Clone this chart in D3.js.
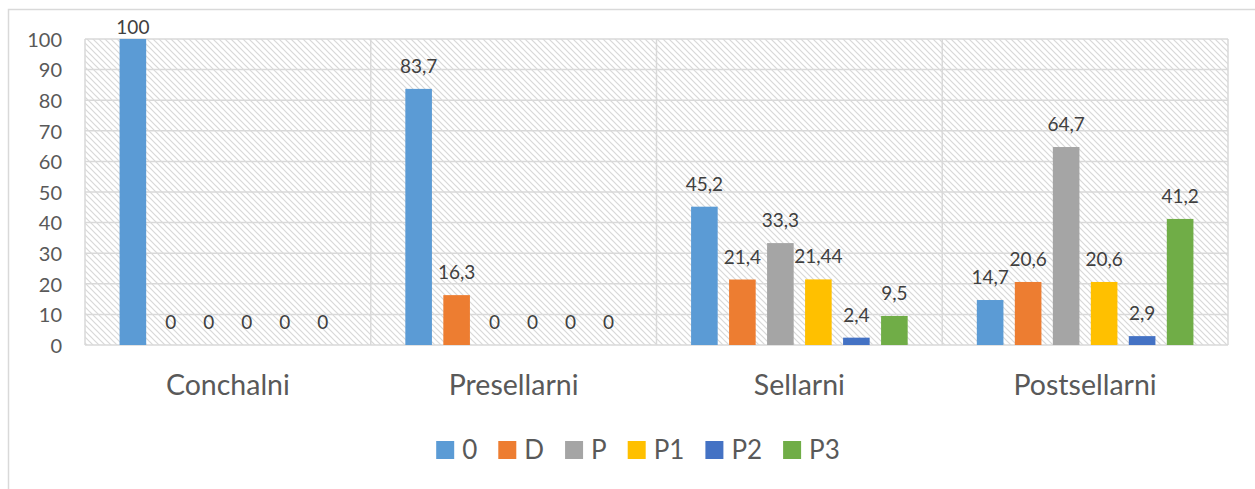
<!DOCTYPE html>
<html><head><meta charset="utf-8">
<script src="https://cdn.jsdelivr.net/npm/d3@7"></script>
<style>body{margin:0;background:#fff}svg{display:block}</style>
</head><body>
<svg id="chart" width="1255" height="489"></svg>
<script>
const categories = ["Conchalni", "Presellarni", "Sellarni", "Postsellarni"];
const seriesNames = ["0", "D", "P", "P1", "P2", "P3"];
const seriesColors = ["#5B9BD5", "#ED7D31", "#A5A5A5", "#FFC000", "#4472C4", "#70AD47"];
const values0  = [100, 83.7, 45.2, 14.7];
const valuesD  = [0, 16.3, 21.4, 20.6];
const valuesP  = [0, 0, 33.3, 64.7];
const valuesP1 = [0, 0, 21.44, 20.6];
const valuesP2 = [0, 0, 2.4, 2.9];
const valuesP3 = [0, 0, 9.5, 41.2];
const yTicks = [0, 10, 20, 30, 40, 50, 60, 70, 80, 90, 100];

(function () {
const seriesValues = [values0, valuesD, valuesP, valuesP1, valuesP2, valuesP3];
const svg = d3.select("#chart");
const font = "Lato, 'Open Sans', sans-serif";
const grid = "#d9d9d9";

svg.append("rect").attr("x", 8.5).attr("y", 9.5).attr("width", 1400).attr("height", 600)
  .attr("fill", "#fff").attr("stroke", grid).attr("stroke-width", 1.5);

const defs = svg.append("defs");
const pat = defs.append("pattern").attr("id", "hatch").attr("patternUnits", "userSpaceOnUse")
  .attr("width", 6).attr("height", 6);
pat.append("rect").attr("width", 6).attr("height", 6).attr("fill", "#fff");
pat.append("path").attr("d", "M-1,-1 L7,7 M-1,5 L1,7 M5,-1 L7,1")
  .attr("stroke", "#d8d8d8").attr("stroke-width", 1.2);

const pLeft = 85, pRight = 1228, pTop = 39, pBottom = 345;
const x = d3.scaleBand().domain(categories).range([pLeft, pRight]).padding(0);
const xs = d3.scaleBand().domain(seriesNames).range([0, x.bandwidth()]).paddingInner(0.3).paddingOuter(0.91);
const y = d3.scaleLinear().domain([0, 100]).range([pBottom, pTop]);

svg.append("rect").attr("x", pLeft).attr("y", pTop).attr("width", pRight - pLeft).attr("height", pBottom - pTop)
  .attr("fill", "url(#hatch)");

svg.append("g").selectAll("line").data(yTicks).join("line")
  .attr("x1", pLeft).attr("x2", pRight).attr("y1", d => y(d)).attr("y2", d => y(d))
  .attr("stroke", grid).attr("stroke-width", 1.5);
const vx = categories.map(c => x(c)).concat([pRight]);
svg.append("g").selectAll("line").data(vx).join("line")
  .attr("x1", d => d).attr("x2", d => d).attr("y1", pTop).attr("y2", pBottom)
  .attr("stroke", grid).attr("stroke-width", 1.5);

const yAxis = d3.axisLeft(y).tickValues(yTicks).tickSize(0).tickPadding(0);
const ya = svg.append("g").attr("transform", `translate(62,0)`).call(yAxis);
ya.select(".domain").remove();
ya.selectAll("text").attr("font-family", font).attr("font-size", 20).attr("fill", "#595959").attr("dy", "0.36em");

const data = [];
categories.forEach((c, ci) => seriesNames.forEach((s, si) => data.push({c, s, si, v: seriesValues[si][ci]})));
svg.append("g").selectAll("rect").data(data).join("rect")
  .attr("x", d => x(d.c) + xs(d.s)).attr("width", xs.bandwidth())
  .attr("y", d => y(d.v)).attr("height", d => y(0) - y(d.v))
  .attr("fill", d => seriesColors[d.si]);

svg.append("g").selectAll("text").data(data).join("text")
  .attr("x", d => x(d.c) + xs(d.s) + xs.bandwidth() / 2)
  .attr("y", d => Math.max(y(d.v) - 16, 34))
  .attr("text-anchor", "middle").attr("font-family", font).attr("font-size", 19).attr("fill", "#404040")
  .text(d => String(d.v).replace(".", ","));

svg.append("g").selectAll("text").data(categories).join("text")
  .attr("x", d => x(d) + x.bandwidth() / 2).attr("y", 395)
  .attr("text-anchor", "middle").attr("font-family", font).attr("font-size", 28.5).attr("fill", "#595959")
  .text(d => d);

const lg = svg.append("g");
let cx = 0;
seriesNames.forEach((s, i) => {
  const g = lg.append("g").attr("transform", `translate(${cx},0)`);
  g.append("rect").attr("x", 0).attr("y", -9).attr("width", 18).attr("height", 18).attr("fill", seriesColors[i]);
  const t = g.append("text").attr("x", 26).attr("y", 0).attr("dy", "0.36em")
    .attr("font-family", font).attr("font-size", 26).attr("fill", "#595959").text(s);
  cx += 26 + t.node().getComputedTextLength() + 21;
});
const lw = cx - 21;
lg.attr("transform", `translate(${638 - lw / 2},450)`);
})();
</script>
</body></html>
